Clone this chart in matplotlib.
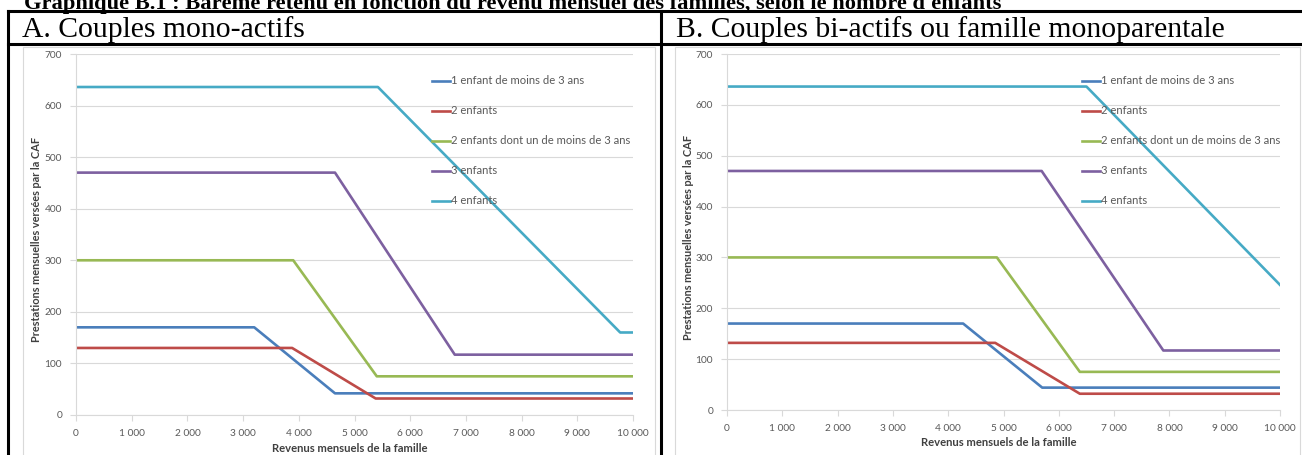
import matplotlib.pyplot as plt
from matplotlib.lines import Line2D
from matplotlib.patches import Rectangle
from matplotlib.ticker import FuncFormatter

W, H = 1302, 455

series = ["1 enfant de moins de 3 ans", "2 enfants",
          "2 enfants dont un de moins de 3 ans", "3 enfants", "4 enfants"]
colors = ["#4A7EBB", "#BE4B48", "#98B954", "#7D60A0", "#46AAC5"]

# panel A : couples mono-actifs (breakpoints of each schedule)
a_x = [[0, 3200, 4650, 10000],
       [0, 3880, 5380, 10000],
       [0, 3900, 5400, 10000],
       [0, 4650, 6800, 10000],
       [0, 5420, 9770, 10000]]
a_y = [[170, 170, 42, 42],
       [130, 130, 32, 32],
       [300, 300, 75, 75],
       [470, 470, 117, 117],
       [636, 636, 160, 160]]

# panel B : couples bi-actifs ou famille monoparentale
b_x = [[0, 4270, 5700, 10000],
       [0, 4850, 6380, 10000],
       [0, 4880, 6380, 10000],
       [0, 5690, 7890, 10000],
       [0, 6500, 10000]]
b_y = [[170, 170, 44, 44],
       [132, 132, 32, 32],
       [300, 300, 75, 75],
       [470, 470, 117, 117],
       [636, 636, 246]]

title = "Graphique B.1 : Barème retenu en fonction du revenu mensuel des familles, selon le nombre d'enfants"
head_a = "A. Couples mono-actifs"
head_b = "B. Couples bi-actifs ou famille monoparentale"
ylab = "Prestations mensuelles versées par la CAF"
xlab = "Revenus mensuels de la famille"

fig = plt.figure(figsize=(W / 100, H / 100), dpi=100)


def fx(px):
    return px / W


def fy(py):
    return 1 - py / H


def hline(x0, x1, y, lw=2.2, c="black"):
    fig.add_artist(Line2D([fx(x0), fx(x1)], [fy(y), fy(y)], color=c, lw=lw))


def vline(x, y0, y1, lw=2.2, c="black"):
    fig.add_artist(Line2D([fx(x), fx(x)], [fy(y0), fy(y1)], color=c, lw=lw))


# table frame
hline(8, 1302, 11)
hline(8, 1302, 44)
vline(8, 11, 455)
vline(661, 11, 455)

fig.text(fx(24), fy(9), title, fontsize=16.2, fontweight="bold",
         family="Liberation Serif", va="baseline")
fig.text(fx(22), fy(37), head_a, fontsize=21.3, family="Liberation Serif", va="baseline")
fig.text(fx(676), fy(37), head_b, fontsize=21.3, family="Liberation Serif", va="baseline")

# chart frames
for x0, x1 in [(23, 655), (675, 1300)]:
    fig.add_artist(Rectangle((fx(x0), fy(470)), fx(x1) - fx(x0), fy(47) - fy(470),
                             fill=False, ec="#D9D9D9", lw=0.8))

fmt = FuncFormatter(lambda v, p: f"{int(v):,}".replace(",", " "))


def panel(box, xs, ys, leg_x, leg_y, ylab_x, xlab_y):
    l, r, t, b = box
    ax = fig.add_axes([fx(l), fy(b), fx(r) - fx(l), fy(t) - fy(b)])
    for x, y, c in zip(xs, ys, colors):
        ax.plot(x, y, color=c, lw=1.9, solid_joinstyle="round")
    ax.set_xlim(0, 10000)
    ax.set_ylim(0, 700)
    ax.set_xticks(range(0, 10001, 1000))
    ax.set_yticks(range(0, 701, 100))
    ax.xaxis.set_major_formatter(fmt)
    ax.grid(axis="y", color="#D9D9D9", lw=0.8)
    ax.set_axisbelow(True)
    for s in ["top", "right"]:
        ax.spines[s].set_visible(False)
    for s in ["left", "bottom"]:
        ax.spines[s].set_color("#D9D9D9")
        ax.spines[s].set_linewidth(0.8)
    ax.tick_params(colors="#D9D9D9", labelcolor="#595959", labelsize=7.3,
                   length=4, width=0.8, pad=6)
    for lab in ax.get_xticklabels() + ax.get_yticklabels():
        lab.set_family("Lato")
    # legend drawn as Excel does : short line + label
    for i, (name, c) in enumerate(zip(series, colors)):
        yy = leg_y + 30 * i
        fig.add_artist(Line2D([fx(leg_x), fx(leg_x + 18)], [fy(yy), fy(yy)], color=c, lw=1.9))
        fig.text(fx(leg_x + 19), fy(yy), name, fontsize=8.1, color="#595959",
                 family="Lato", va="center")
    fig.text(fx(ylab_x), fy((t + b) / 2 + 5), ylab, rotation=90, fontsize=7.9,
             fontweight="bold", color="#404040", family="Lato", ha="center", va="center")
    fig.text(fx((l + r) / 2 - 5), fy(xlab_y), xlab, fontsize=8.1, fontweight="bold",
             color="#404040", family="Lato", ha="center", va="center")
    return ax


panel((76, 633, 54, 415), a_x, a_y, 432, 81, 37, 448)
panel((727, 1280, 54, 410), b_x, b_y, 1082, 81, 688, 443)

fig.savefig("out.png", dpi=100)
